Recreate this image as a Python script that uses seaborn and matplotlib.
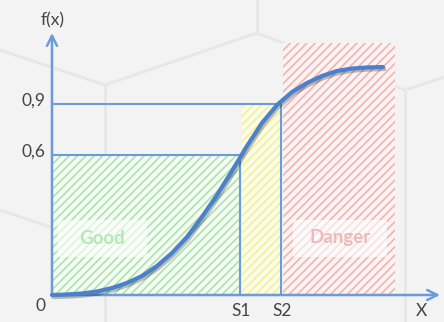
import matplotlib
matplotlib.use("Agg")
import matplotlib.pyplot as plt
import matplotlib.patches as mpatches
import matplotlib.patheffects as pe
import seaborn as sns
import pandas as pd

# curve (origin = 0,0, schematic units)
curve_x = [0, 15, 30, 45, 60, 75, 90, 105, 120, 135, 150, 165,
           180, 195, 210, 225, 240, 255, 270, 285, 300, 315, 331]
curve_y = [0, 0.5, 1.5, 3.5, 7, 12, 19, 29, 42, 58, 78, 100,
           124, 149, 172, 190, 203, 212, 219, 224, 226.5, 227.5, 228]

level_labels = ["0,6", "0,9"]
level_pos = [140, 191]
threshold_labels = ["S1", "S2"]
threshold_pos = [188, 229]
zone_labels = ["Good", "Danger"]
danger_end = 343
danger_top = 252
axis_x_end = 388
axis_y_end = 262

BLUE = "#6b9bd9"
CURVE = "#4a80cc"
TEXT = "#454545"


def draw_background(ax):
	# faint hexagon pattern behind the chart
	segs = [
		([-52, 53], [245, 210]), ([53, 205], [210, 262]), ([53, 53], [210, -27]),
		([205, 205], [295, 262]), ([205, 353], [262, 205]), ([353, 353], [205, -27]),
		([353, 392], [205, 218]), ([-52, -2], [85, 68]),
	]
	for xs, ys in segs:
		ax.plot(xs, ys, color="#e7e7e7", lw=2, zorder=0)


def main():
	sns.set_style("white")
	plt.rcParams["hatch.linewidth"] = 1.2
	fig = plt.figure(figsize=(4.44, 3.22), dpi=100, facecolor="#f3f3f3")
	ax = fig.add_axes([0, 0, 1, 1])
	ax.set_facecolor("#f3f3f3")

	draw_background(ax)

	s1, s2 = threshold_pos
	y6, y9 = level_pos

	# hatched zones
	zones = [
		(0, s1, y6, "#f6fbf6", "#a9e5a9"),
		(s1 + 2, s2, y9, "#fcfce9", "#f1f19a"),
		(s2 + 2, danger_end, danger_top, "#fcf3f3", "#f2b3b3"),
	]
	for x0, x1, top, face, hatch in zones:
		ax.add_patch(mpatches.Rectangle((x0, 0), x1 - x0, top, facecolor=face,
			edgecolor=hatch, hatch="////", lw=0, zorder=1))

	# guide lines
	ax.plot([0, s1, s1], [y6, y6, 0], color=BLUE, lw=1.5, zorder=3)
	ax.plot([0, s2, s2], [y9, y9, 0], color=BLUE, lw=1.5, zorder=3)

	# axes with arrows
	arrow = dict(arrowstyle="->", color=BLUE, lw=1.8, mutation_scale=18, shrinkA=0, shrinkB=0)
	ax.annotate("", xy=(axis_x_end, 0), xytext=(0, 0), arrowprops=arrow, zorder=4)
	ax.annotate("", xy=(0, axis_y_end), xytext=(0, 0), arrowprops=arrow, zorder=4)

	df = pd.DataFrame({"x": curve_x, "y": curve_y})
	sns.lineplot(data=df, x="x", y="y", ax=ax, color=CURVE, lw=3, sort=False,
		zorder=5, path_effects=[pe.SimpleLineShadow(offset=(1, -1.5), alpha=0.25), pe.Normal()])
	ax.set_xlim(-52, 392)
	ax.set_ylim(-27, 295)
	ax.axis("off")

	font = "Lato"
	for lab, y in zip(level_labels, level_pos):
		ax.text(-7, y + 3, lab, ha="right", va="center", fontsize=12.5, color=TEXT, family=font)
	for lab, x in zip(threshold_labels, threshold_pos):
		ax.text(x + 1, -16, lab, ha="center", va="center", fontsize=12.5, color=TEXT, family=font)
	ax.text(-12, -11, "0", ha="center", va="center", fontsize=12.5, color=TEXT, family=font)
	ax.text(369, -16, "X", ha="center", va="center", fontsize=12.5, color=TEXT, family=font)
	ax.text(1, 275, "f(x)", ha="center", va="center", fontsize=12.5, color=TEXT, family=font)

	# label boxes
	for lab, (x0, x1), col in zip(zone_labels, [(5, 95), (241, 335)], ["#b4e8b4", "#f0b9b9"]):
		ax.add_patch(mpatches.Rectangle((x0, 38), x1 - x0, 37, facecolor="white",
			edgecolor="none", alpha=0.6, zorder=6))
		ax.text((x0 + x1) / 2, 57, lab, ha="center", va="center", fontsize=13.5,
			fontweight="bold", color=col, family=font, zorder=7)

	fig.savefig("out.png", dpi=100, facecolor=fig.get_facecolor())
	plt.close(fig)


if __name__ == "__main__":
	main()
